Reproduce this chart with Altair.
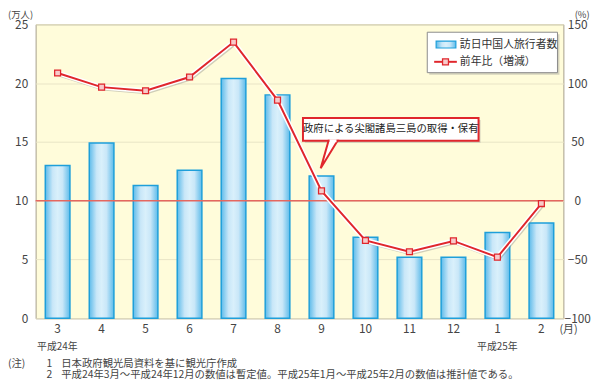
import altair as alt
import pandas as pd

# ---- data ----
months = ["3", "4", "5", "6", "7", "8", "9", "10", "11", "12", "1", "2"]
visitors = [13.0, 14.9, 11.3, 12.6, 20.4, 19.0, 12.1, 6.9, 5.2, 5.2, 7.3, 8.1]
yoy = [108.6, 96.6, 93.5, 105.2, 134.9, 85.6, 8.4, -33.8, -43.4, -34.2, -48.0, -2.4]
left_ticks = [0, 5, 10, 15, 20, 25]
right_ticks = [-100, -50, 0, 50, 100, 150]

bar_name = "訪日中国人旅行者数"
line_name = "前年比（増減）"
callout = "政府による尖閣諸島三島の取得・保有"
note1 = "日本政府観光局資料を基に観光庁作成"
note2 = "平成24年3月～平成24年12月の数値は暫定値。平成25年1月～平成25年2月の数値は推計値である。"

df = pd.DataFrame({"month": months, "visitors": visitors, "yoy": yoy})
one = pd.DataFrame({"k": [0]})

FONT = "Noto Sans CJK JP"
RED = "#E0262C"
W, H = 535, 298

grad = alt.Gradient(
    gradient="linear", x1=0, x2=1, y1=0, y2=0,
    stops=[
        alt.GradientStop(offset=0, color="#5DBBEA"),
        alt.GradientStop(offset=0.3, color="#C9E7F8"),
        alt.GradientStop(offset=0.5, color="#D9F0FB"),
        alt.GradientStop(offset=0.7, color="#C9E7F8"),
        alt.GradientStop(offset=1, color="#5DBBEA"),
    ],
)

x_enc = alt.X(
    "month:N", sort=months,
    scale=alt.Scale(paddingInner=0, paddingOuter=0),
    axis=alt.Axis(title=None, labelAngle=0, ticks=False, domain=False,
                  labelFontSize=12, labelColor="#444", labelPadding=5,
                  labelFont=FONT),
)

base = alt.Chart(df)

bars = base.mark_bar(size=25, fill=grad, stroke="#1E9FDA", strokeWidth=1.5).encode(
    x=x_enc,
    y=alt.Y("visitors:Q", scale=alt.Scale(domain=[0, 25], nice=False),
            axis=alt.Axis(values=left_ticks, title=None, grid=True,
                          gridColor="#E9E5C6", domain=False, ticks=False,
                          labelPadding=8, labelFontSize=12, labelColor="#444",
                          labelFont=FONT)),
)
zero_rule = alt.Chart(one).mark_rule(color="#E5675F", strokeWidth=1.5).encode(
    y=alt.datum(10)
)
left = alt.layer(bars, zero_rule)

right_axis = alt.Axis(orient="right", values=right_ticks, title=None,
                      grid=False, domain=False, ticks=False, labelPadding=14,
                      labelAlign="center", labelFontSize=12, labelColor="#444",
                      labelFont=FONT)
yr = alt.Y("yoy:Q", scale=alt.Scale(domain=[-100, 150], nice=False), axis=right_axis)

shadow = base.mark_line(color="#777", strokeWidth=3, opacity=0.35, xOffset=1.5, yOffset=2).encode(x=x_enc, y=yr)
halo = base.mark_line(color="white", strokeWidth=5).encode(x=x_enc, y=yr)
line = base.mark_line(color=RED, strokeWidth=2).encode(x=x_enc, y=yr)
pts = base.mark_point(shape="square", filled=True, fill="#F7CACA", stroke=RED,
                      strokeWidth=1.3, size=36, opacity=1).encode(x=x_enc, y=yr)
right = alt.layer(shadow, halo, line, pts)


def txt(s, x, y, size=11, align="left", color="#333", baseline="middle"):
    return alt.Chart(one).mark_text(text=s, font=FONT, fontSize=size, align=align,
                                    baseline=baseline, color=color).encode(
        x=alt.value(x), y=alt.value(y))


def rect(x, x2, y, y2, fill, stroke=None, sw=1, opacity=1):
    kw = dict(fill=fill, opacity=opacity)
    if stroke:
        kw.update(stroke=stroke, strokeWidth=sw)
    return alt.Chart(one).mark_rect(**kw).encode(
        x=alt.value(x), x2=alt.value(x2), y=alt.value(y), y2=alt.value(y2))


# legend (manual)
legend = alt.layer(
    rect(399, 531, 10, 51, "#888", opacity=0.35),
    rect(397, 529, 8, 49, "white", "#8A8A8A", 1),
    rect(406, 426, 17, 24, grad, "#1E9FDA", 1.2),
    txt(bar_name, 430, 20.5, 11),
    alt.Chart(one).mark_rule(color=RED, strokeWidth=2).encode(
        x=alt.value(404), x2=alt.value(427), y=alt.value(38)),
    alt.Chart(one).mark_point(shape="square", filled=True, fill="#F7CACA", stroke=RED,
                              strokeWidth=1.3, size=36, opacity=1).encode(
        x=alt.value(415.5), y=alt.value(38)),
    txt(line_name, 430, 38, 11),
)

# callout
tail_path = "M -0.04 -1 L 0.61 -1 L -0.61 1 Z"
annot = alt.layer(
    rect(273, 451, 97, 120, "#888", opacity=0.35),
    rect(271, 449, 95, 118, "white", RED, 2),
    alt.Chart(one).mark_point(shape=tail_path, filled=True, fill="white", stroke=RED,
                              strokeWidth=2, size=784, opacity=1).encode(
        x=alt.value(297.5), y=alt.value(132)),
    alt.Chart(one).mark_rule(color="white", strokeWidth=3).encode(
        x=alt.value(298), x2=alt.value(305), y=alt.value(118)),
    txt(callout, 360, 106.5, 10.5, align="center", color="#222"),
)

extras = alt.layer(
    txt("(万人)", -28, -14, 9.5, color="#444", baseline="top"),
    txt("(%)", 554, -14, 9.5, align="center", color="#444", baseline="top"),
    txt("(月)", 531, 310, 11, color="#444"),
    txt("平成24年", 22, 327, 10, align="center", color="#444"),
    txt("平成25年", 468, 327, 10, align="center", color="#444"),
    txt("(注)", -28, 344, 10.5, color="#444"),
    txt("1", 11, 344, 10.5, color="#444"),
    txt(note1, 26, 344, 10.5, color="#444"),
    txt("2", 11, 356, 10.5, color="#444"),
    txt(note2, 26, 356, 10.5, color="#444"),
)

chart = alt.layer(left, right, legend, annot, extras).resolve_scale(
    y="independent"
).properties(
    width=W, height=H,
    autosize=alt.AutoSizeParams(type="none"),
    padding={"left": 28, "top": 14, "right": 29, "bottom": 61},
).configure_view(
    fill="#FFFCDA", stroke="#A59D8A", strokeWidth=1
)

chart.save("out.html", embed_options={"renderer": "svg", "actions": False})
